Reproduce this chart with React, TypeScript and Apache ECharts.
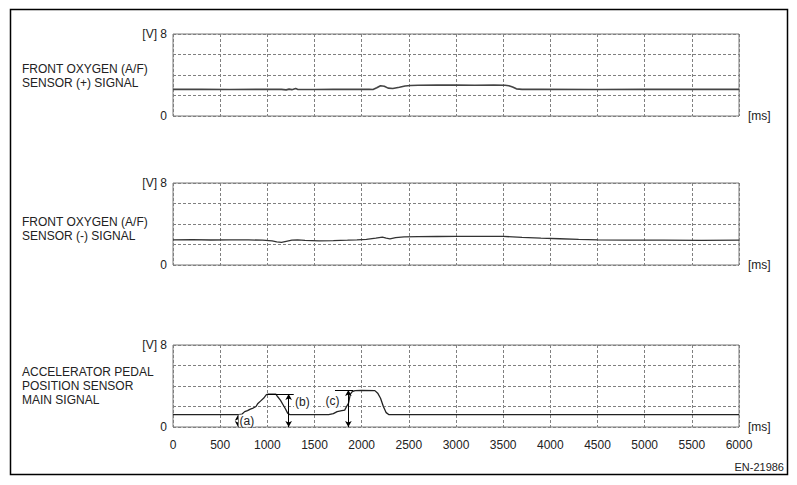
import React, { useEffect, useRef } from "react";
import * as echarts from "echarts";

// ---- data (ms, V) ----
const plusSignal: [number, number][] = [
  [0, 2.6], [300, 2.6], [600, 2.58], [900, 2.6], [1150, 2.6], [1200, 2.55], [1230, 2.62],
  [1260, 2.57], [1300, 2.68], [1320, 2.6], [1500, 2.58], [1700, 2.6], [1900, 2.6],
  [2080, 2.6], [2120, 2.58], [2160, 2.75], [2200, 2.95], [2240, 2.9], [2280, 2.72],
  [2330, 2.68], [2400, 2.8], [2460, 2.92], [2520, 2.98], [2600, 3.0], [2800, 3.01],
  [3000, 3.02], [3200, 3.0], [3400, 3.01], [3520, 3.0], [3560, 2.95], [3600, 2.82],
  [3640, 2.65], [3700, 2.6], [3900, 2.6], [4500, 2.58], [5000, 2.6], [5500, 2.6], [6000, 2.6],
];

const minusSignal: [number, number][] = [
  [0, 2.45], [200, 2.47], [400, 2.44], [600, 2.46], [800, 2.45], [950, 2.42], [1050, 2.35],
  [1100, 2.25], [1150, 2.2], [1200, 2.3], [1260, 2.42], [1320, 2.45], [1400, 2.4],
  [1550, 2.36], [1700, 2.38], [1850, 2.42], [1950, 2.45], [2050, 2.5], [2150, 2.62],
  [2220, 2.72], [2260, 2.62], [2300, 2.55], [2360, 2.68], [2450, 2.74], [2600, 2.76],
  [2800, 2.78], [3000, 2.8], [3250, 2.8], [3500, 2.79], [3700, 2.7], [3900, 2.62],
  [4100, 2.56], [4300, 2.5], [4500, 2.46], [4800, 2.43], [5200, 2.42], [5600, 2.41], [6000, 2.42],
];

const pedalSignal: [number, number][] = [
  [0, 1.2], [700, 1.2], [730, 1.25], [760, 1.5], [790, 1.6], [820, 1.75], [850, 1.85],
  [880, 2.0], [900, 2.3], [930, 2.55], [960, 2.8], [990, 3.15], [1010, 3.2], [1090, 3.2],
  [1110, 2.95], [1140, 2.6], [1165, 2.2], [1190, 1.8], [1215, 1.35], [1240, 1.2],
  [1650, 1.2], [1700, 1.3], [1740, 1.5], [1790, 1.6], [1820, 1.65], [1840, 2.0],
  [1860, 2.3], [1880, 3.2], [1900, 3.45], [1930, 3.55], [2000, 3.58], [2140, 3.55],
  [2170, 3.3], [2200, 2.8], [2230, 2.0], [2260, 1.4], [2290, 1.2], [6000, 1.2],
];

// annotations: [x (ms), top value (V)]
const arrowA: [number, number] = [690, 1.2];
const arrowB: [number, number] = [1226, 3.22];
const arrowC: [number, number] = [1859, 3.6];
const capB: [number, number, number] = [1000, 1280, 3.22];
const capC: [number, number, number] = [1717, 1911, 3.6];
const annLabels: [number, number, string][] = [
  [783, 0.62, "(a)"],
  [1372, 2.4, "(b)"],
  [1690, 2.55, "(c)"],
];

const xTicks = [0, 500, 1000, 1500, 2000, 2500, 3000, 3500, 4000, 4500, 5000, 5500, 6000];

const FONT = "'Liberation Sans', Arial, sans-serif";
const GRID_TOPS = [34, 183, 345];

export default function App() {
  const ref = useRef<HTMLDivElement>(null);
  useEffect(() => {
    if (!ref.current) return;
    const chart = echarts.init(ref.current, undefined, { renderer: "svg" });

    const grids = GRID_TOPS.map((t) => ({
      left: 173, top: t, width: 566, height: 82,
      show: true, borderColor: "#7a7a7a", borderWidth: 1, backgroundColor: "transparent",
    }));

    const xAxes = GRID_TOPS.map((_, i) => ({
      type: "value" as const,
      gridIndex: i,
      min: xTicks[0],
      max: xTicks[xTicks.length - 1],
      interval: 500,
      axisLine: { show: false },
      axisTick: { show: false },
      axisLabel: {
        show: i === 2,
        margin: 12,
        color: "#222",
        fontSize: 12,
        fontFamily: FONT,
        formatter: (v: number) => String(v),
      },
      splitLine: { show: true, lineStyle: { color: "#808080", width: 1, type: [3, 2] } },
      name: "[ms]",
      nameLocation: "end" as const,
      nameGap: 9,
      nameTextStyle: { color: "#222", fontSize: 12, fontFamily: FONT, padding: [5, 0, 0, 0] },
    }));

    const yAxes = GRID_TOPS.map((_, i) => ({
      type: "value" as const,
      gridIndex: i,
      min: 0,
      max: 8,
      interval: 2,
      axisLine: { show: false },
      axisTick: { show: false },
      axisLabel: {
        margin: 6,
        color: "#222",
        fontSize: 12,
        fontFamily: FONT,
        formatter: (v: number) => (v === 8 ? "[V] 8" : v === 0 ? "0" : ""),
      },
      splitLine: { show: true, lineStyle: { color: "#808080", width: 1, type: [3, 2] } },
    }));

    const arrowLine = (a: [number, number]) => [
      { coord: [a[0], 0], symbol: "arrow", symbolSize: [5, 6] },
      { coord: [a[0], a[1]], symbol: "arrow", symbolSize: [5, 6] },
    ];
    const capLine = (c: [number, number, number]) => [
      { coord: [c[0], c[2]], symbol: "none" },
      { coord: [c[1], c[2]], symbol: "none" },
    ];

    const textLine = (lines: string[], x: number, ys: number[]) =>
      lines.map((s, k) => ({
        type: "text",
        x,
        y: ys[k],
        style: {
          text: s,
          fill: "#222",
          font: `12px ${FONT}`,
          textVerticalAlign: "middle",
          verticalAlign: "middle",
        },
      }));

    chart.setOption({
      animation: false,
      backgroundColor: "#fff",
      grid: grids,
      xAxis: xAxes,
      yAxis: yAxes,
      series: [
        {
          type: "line", xAxisIndex: 0, yAxisIndex: 0, data: plusSignal,
          showSymbol: false, symbol: "none", lineStyle: { color: "#444", width: 1.6 },
        },
        {
          type: "line", xAxisIndex: 1, yAxisIndex: 1, data: minusSignal,
          showSymbol: false, symbol: "none", lineStyle: { color: "#333", width: 1.3 },
        },
        {
          type: "line", xAxisIndex: 2, yAxisIndex: 2, data: pedalSignal,
          showSymbol: false, symbol: "none", color: "#222",
          lineStyle: { color: "#222", width: 1.3 },
          markLine: {
            silent: true,
            animation: false,
            label: { show: false },
            lineStyle: { color: "#000", width: 1, type: "solid" },
            data: [arrowLine(arrowA), arrowLine(arrowB), arrowLine(arrowC), capLine(capB), capLine(capC)],
          },
          markPoint: {
            silent: true,
            animation: false,
            symbol: "rect",
            symbolSize: 1,
            itemStyle: { color: "rgba(0,0,0,0)" },
            label: {
              show: true,
              position: "inside",
              color: "#222",
              fontSize: 12,
              fontFamily: FONT,
              backgroundColor: "#fff",
              padding: [0, 1],
              formatter: (p: any) => p.name,
            },
            data: annLabels.map((l) => ({ name: l[2], coord: [l[0], l[1]] })),
          },
        },
      ],
      graphic: [
        {
          type: "rect",
          shape: { x: 10.5, y: 9.5, width: 777, height: 465 },
          style: { fill: "none", stroke: "#000", lineWidth: 1.5 },
        },
        ...textLine(["FRONT OXYGEN (A/F)", "SENSOR (+) SIGNAL"], 22, [69, 83]),
        ...textLine(["FRONT OXYGEN (A/F)", "SENSOR (-) SIGNAL"], 22, [222, 236]),
        ...textLine(["ACCELERATOR PEDAL", "POSITION SENSOR", "MAIN SIGNAL"], 22, [372, 386, 400]),
        {
          type: "text",
          x: 784,
          y: 467,
          style: {
            text: "EN-21986",
            fill: "#222",
            font: `11px ${FONT}`,
            textAlign: "right",
            align: "right",
            textVerticalAlign: "middle",
            verticalAlign: "middle",
          },
        },
      ],
    });
    return () => chart.dispose();
  }, []);
  return (
    <div
      ref={ref}
      style={{ position: "absolute", left: 0, top: 0, width: 797, height: 485, background: "#fff" }}
    />
  );
}
